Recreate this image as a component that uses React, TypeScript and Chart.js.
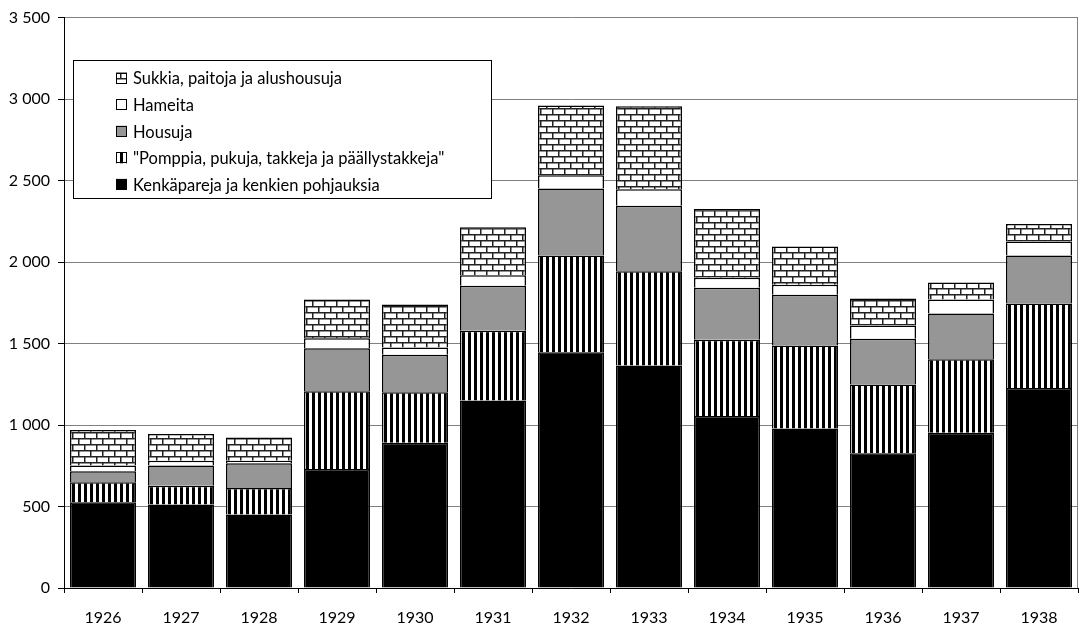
import React, { useEffect, useRef } from "react";
import { Chart, registerables } from "chart.js";

Chart.register(...registerables);

const years = ["1926", "1927", "1928", "1929", "1930", "1931", "1932", "1933", "1934", "1935", "1936", "1937", "1938"];
const kenkapareja = [526, 512, 451, 730, 892, 1151, 1447, 1366, 1055, 978, 827, 953, 1227];
const pomppia = [123, 116, 163, 477, 309, 427, 594, 577, 468, 510, 421, 451, 519];
const housuja = [67, 123, 151, 264, 230, 276, 410, 403, 319, 311, 281, 281, 295];
const hameita = [35, 30, 16, 61, 45, 65, 82, 101, 61, 61, 81, 85, 85];
const sukkia = [218, 164, 143, 238, 264, 294, 427, 509, 422, 236, 166, 104, 108];
const yTicks = [0, 500, 1000, 1500, 2000, 2500, 3000, 3500];

const FONT = "Lato, 'Open Sans', sans-serif";

function brickPattern(): CanvasPattern | string {
  const c = document.createElement("canvas");
  c.width = 12;
  c.height = 12;
  const g = c.getContext("2d");
  if (!g) return "#fff";
  g.fillStyle = "#fff";
  g.fillRect(0, 0, 12, 12);
  g.fillStyle = "#222";
  g.fillRect(0, 0, 12, 1.5);
  g.fillRect(0, 6, 12, 1.5);
  g.fillRect(0, 0, 1.5, 6);
  g.fillRect(6, 6, 1.5, 6);
  return g.createPattern(c, "repeat") || "#fff";
}

function stripePattern(): CanvasPattern | string {
  const c = document.createElement("canvas");
  c.width = 6;
  c.height = 6;
  const g = c.getContext("2d");
  if (!g) return "#000";
  g.fillStyle = "#fff";
  g.fillRect(0, 0, 6, 6);
  g.fillStyle = "#000";
  g.fillRect(0, 0, 3, 6);
  return g.createPattern(c, "repeat") || "#000";
}

const legendPlugin = {
  id: "boxLegend",
  afterDraw(chart: any) {
    const ctx = chart.ctx;
    const x0 = 73.5, y0 = 60.5, w = 418, h = 138;
    ctx.save();
    ctx.fillStyle = "#fff";
    ctx.fillRect(x0, y0, w, h);
    ctx.strokeStyle = "#000";
    ctx.lineWidth = 1;
    ctx.strokeRect(x0, y0, w, h);
    const ds = chart.data.datasets.slice().reverse();
    ctx.font = "16.5px " + FONT;
    ctx.textBaseline = "middle";
    ds.forEach((d: any, i: number) => {
      const cy = 78 + i * 26.6;
      ctx.fillStyle = d.backgroundColor;
      ctx.fillRect(116, cy - 5.5, 11, 11);
      ctx.strokeStyle = "#000";
      ctx.lineWidth = 1;
      ctx.strokeRect(116.5, Math.round(cy - 5.5) + 0.5, 10, 10);
      ctx.fillStyle = "#000";
      ctx.fillText(d.label, 133, cy + 1);
    });
    ctx.restore();
  },
};

const frameRightPlugin = {
  id: "frameRight",
  beforeDatasetsDraw(chart: any) {
    const { ctx, chartArea } = chart;
    ctx.save();
    ctx.strokeStyle = "#808080";
    ctx.lineWidth = 1;
    ctx.beginPath();
    const x = Math.round(chartArea.right) - 0.5;
    ctx.moveTo(x, chartArea.top);
    ctx.lineTo(x, chartArea.bottom);
    ctx.stroke();
    ctx.restore();
  },
};

export default function App() {
  const ref = useRef<HTMLCanvasElement | null>(null);
  useEffect(() => {
    if (!ref.current) return;
    const common = { borderColor: "#000", borderWidth: 1.5, barPercentage: 0.846, categoryPercentage: 1 };
    const chart = new Chart(ref.current, {
      type: "bar",
      data: {
        labels: years,
        datasets: [
          { label: "Kenkäpareja ja kenkien pohjauksia", data: kenkapareja, backgroundColor: "#000", ...common },
          { label: "\"Pomppia, pukuja, takkeja ja päällystakkeja\"", data: pomppia, backgroundColor: stripePattern(), ...common },
          { label: "Housuja", data: housuja, backgroundColor: "#969696", ...common },
          { label: "Hameita", data: hameita, backgroundColor: "#fff", ...common },
          { label: "Sukkia, paitoja ja alushousuja", data: sukkia, backgroundColor: brickPattern(), ...common },
        ] as any,
      },
      options: {
        animation: false,
        responsive: true,
        maintainAspectRatio: false,
        layout: { padding: { top: 14, right: 6, left: 0, bottom: 0 } },
        plugins: { legend: { display: false }, tooltip: { enabled: false } },
        scales: {
          x: {
            stacked: true,
            grid: { drawOnChartArea: false, drawTicks: true, tickLength: 5, tickColor: "#000", offset: true },
            border: { color: "#000", width: 1 },
            ticks: { color: "#000", font: { family: FONT, size: 16 }, padding: 15, maxRotation: 0 },
            afterFit: (s: any) => { s.height = 45; },
          },
          y: {
            stacked: true,
            min: 0,
            max: 3500,
            afterBuildTicks: (s: any) => { s.ticks = yTicks.map((v) => ({ value: v })); },
            grid: { color: "#808080", lineWidth: 1, tickLength: 6, tickColor: "#000" },
            border: { color: "#000", width: 1 },
            ticks: {
              color: "#000",
              font: { family: FONT, size: 16 },
              padding: 8,
              callback: (v: any) => String(v).replace(/\B(?=(\d{3})+(?!\d))/g, " "),
            },
            afterFit: (s: any) => { s.width = 64; },
          },
        },
      },
      plugins: [frameRightPlugin, legendPlugin],
    });
    return () => chart.destroy();
  }, []);
  return (
    <div style={{ position: "fixed", left: 0, top: 0, width: 1084, height: 633, background: "#fff" }}>
      <canvas ref={ref} />
    </div>
  );
}
